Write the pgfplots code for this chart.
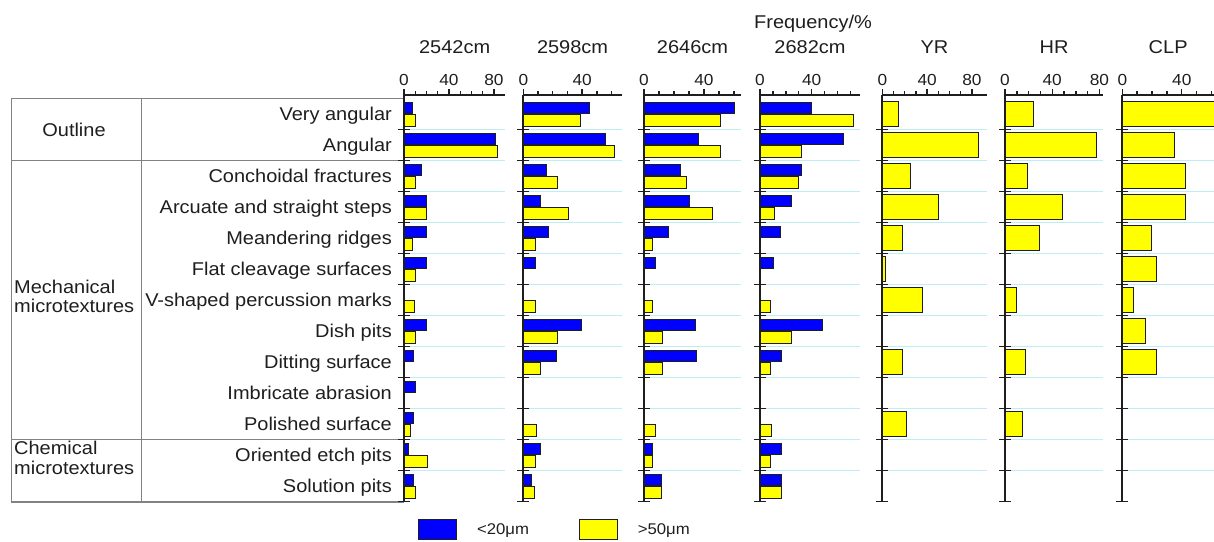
\documentclass[border=0pt]{standalone}
\usepackage{fontspec}
\setmainfont{Liberation Sans}[FakeStretch=1.08]
\usepackage{pgfplots}
\pgfplotsset{compat=1.18}
\definecolor{barblue}{RGB}{0,0,255}
\definecolor{baryellow}{RGB}{255,255,0}
\definecolor{gridcyan}{RGB}{190,238,245}
\definecolor{axgray}{RGB}{30,30,30}
\definecolor{tabgray}{RGB}{130,130,130}
\definecolor{txt}{RGB}{30,30,30}
\newcommand{\lblfont}{\fontsize{18.5}{20}\selectfont}
\newcommand{\yticks}{\pgfplotsinvokeforeach{-0.5,0.5,1.5,2.5,3.5,4.5,5.5,6.5,7.5,8.5,9.5,10.5,11.5}{\draw[axgray, line width=1.6pt] ([xshift=-6pt]axis cs:0,##1) -- ([xshift=6pt]axis cs:0,##1);}}
\pgfplotsset{
  panel/.style={
    scale only axis, height=407pt,
    ymin=-0.516, ymax=12.613, xmin=0,
    axis x line*=top, axis y line*=left,
    axis line style={axgray, line width=1.7pt, -},
    every outer x axis line/.append style={axgray, line width=1.7pt, -},
    every outer y axis line/.append style={axgray, line width=1.7pt, -},
    xtick={0,40,80}, minor x tick num=3,
    tick align=outside,
    major tick length=6pt, minor tick length=4pt,
    every tick/.style={axgray, line width=1.4pt},
    ytick={0.5,1.5,...,11.5}, yticklabels={},
    y tick style={draw=none},
    ymajorgrids, grid style={gridcyan, line width=0.8pt},
    xticklabel style={font=\fontsize{16}{17}\selectfont, text=txt, inner sep=3.5pt},
    /pgf/number format/assume math mode=true,
    title style={font=\lblfont, text=txt, anchor=center, at={(0.5,1)}, yshift=42pt},
    xbar, bar width=0.37, clip=false,
  },
  bb/.style={draw=axgray, fill=barblue, line width=0.8pt, bar shift=0.2},
  yb/.style={draw=axgray, fill=baryellow, line width=0.8pt, bar shift=-0.2},
  sb/.style={draw=axgray, fill=baryellow, line width=0.8pt, bar width=0.8, bar shift=0},
}
\begin{document}
\begin{tikzpicture}
\path[use as bounding box] (0pt,0pt) rectangle (1214pt,-541pt);

% table frame
\begin{scope}[tabgray, line width=1.1pt]
\draw (404pt,-98.5pt) -- (11.7pt,-98.5pt) -- (11.7pt,-502pt) -- (404pt,-502pt);
\draw (141.7pt,-98.5pt) -- (141.7pt,-502pt);
\draw (11.7pt,-160.5pt) -- (404pt,-160.5pt);
\draw (11.7pt,-439.5pt) -- (404pt,-439.5pt);
\end{scope}

\begin{scope}[every node/.style={font=\lblfont, text=txt, inner sep=0pt, text height=13pt, text depth=0pt}]
\node at (74pt,-129.5pt) {Outline};
\node[anchor=west, align=left] at (14pt,-306pt) {Mechanical\\[-1pt]microtextures};
\node[anchor=west, align=left] at (14pt,-468pt) {Chemical\\[0pt]microtextures};
\foreach \t [count=\k from 0] in {Very angular,Angular,Conchoidal fractures,Arcuate and straight steps,Meandering ridges,Flat cleavage surfaces,V-shaped percussion marks,Dish pits,Ditting surface,Imbricate abrasion,Polished surface,Oriented etch pits,Solution pits}
  \node[anchor=east] at (392pt,{-114pt-31pt*\k}) {\t};
\node at (813pt,-22pt) {Frequency/\%};
\end{scope}

% 2542cm
\begin{axis}[panel, at={(404pt,-95pt)}, anchor=north west, width=101.25pt, xmax=90, title={2542cm}]
\addplot[bb] coordinates {(7.7,12) (81.5,11) (15.7,10) (20.1,9) (20,8) (20,7) (20,5) (8.3,4) (10.4,3) (8.3,2) (3.9,1) (8.3,0)};
\addplot[yb] coordinates {(10.4,12) (83.3,11) (10.4,10) (19.6,9) (7.4,8) (10.4,7) (9.2,6) (10.4,5) (5.3,2) (20.7,1) (10.4,0)};
\yticks
\end{axis}

% 2598cm
\begin{axis}[panel, at={(523.3pt,-95pt)}, anchor=north west, width=98.5pt, xmax=67, title={2598cm},
  legend style={at={(-1.069,-0.0418)}, anchor=north west, draw=none, fill=none, inner sep=0pt,
    legend columns=2, font=\fontsize{15.5}{16}\selectfont, text=txt,
    /tikz/every even column/.append style={column sep=48pt},
    /tikz/every odd column/.append style={column sep=18pt}},
  legend image code/.code={\draw[#1] (0pt,-10pt) rectangle (38pt,10pt);}]
\addplot[bb] coordinates {(44.9,12) (56,11) (15.9,10) (11.4,9) (17,8) (8,7) (39.2,5) (22.7,4) (11.4,1) (5.7,0)};
\addplot[yb] coordinates {(38.6,12) (61.7,11) (23.1,10) (30.6,9) (8.4,8) (8,6) (23.4,5) (11.4,4) (8.6,2) (8,1) (7.5,0)};
\addlegendentry{<20μm}
\addlegendentry{>50μm}
\yticks
\end{axis}

% 2646cm
\begin{axis}[panel, at={(644pt,-95pt)}, anchor=north west, width=97pt, xmax=64.7, title={2646cm}]
\addplot[bb] coordinates {(60.2,12) (36.2,11) (24,10) (30.2,9) (16.2,8) (7.3,7) (34.4,5) (34.7,4) (5.8,1) (11.8,0)};
\addplot[yb] coordinates {(51.1,12) (51.1,11) (28.4,10) (45.6,9) (5.8,8) (5.8,6) (12.4,5) (12.4,4) (7.8,2) (5.8,1) (11.8,0)};
\yticks
\end{axis}

% 2682cm
\begin{axis}[panel, at={(760pt,-95pt)}, anchor=north west, width=100pt, xmax=77.5, title={2682cm}]
\addplot[bb] coordinates {(40,12) (64.6,11) (32.3,10) (24,9) (16,8) (10.3,7) (48.6,5) (16.3,4) (16.3,1) (16.3,0)};
\addplot[yb] coordinates {(72.3,12) (32.3,11) (29.7,10) (11.1,9) (7.8,6) (24,5) (7.8,4) (9,2) (7.8,1) (16.3,0)};
\yticks
\end{axis}

% YR
\begin{axis}[panel, at={(882.3pt,-95pt)}, anchor=north west, width=104.2pt, xmax=93, title={YR}]
\addplot[sb] coordinates {(14.3,12) (85.7,11) (24.7,10) (50,9) (17.9,8) (2.4,7) (35.7,6) (17.9,4) (21.2,2)};
\yticks
\end{axis}

% HR
\begin{axis}[panel, at={(1005pt,-95pt)}, anchor=north west, width=98pt, xmax=83, title={HR}]
\addplot[sb] coordinates {(24,12) (77.7,11) (19.2,10) (48.6,9) (29.1,8) (9.3,6) (17,4) (14.4,2)};
\yticks
\end{axis}

% CLP
\begin{axis}[panel, at={(1122.3pt,-95pt)}, anchor=north west, width=91.7pt, xmax=61.7, title={CLP}]
\addplot[sb] coordinates {(62,12) (34.8,11) (42.7,10) (42.7,9) (19.3,8) (23.1,7) (7.4,6) (15.5,5) (23.1,4)};
\yticks
\end{axis}
\end{tikzpicture}
\end{document}
